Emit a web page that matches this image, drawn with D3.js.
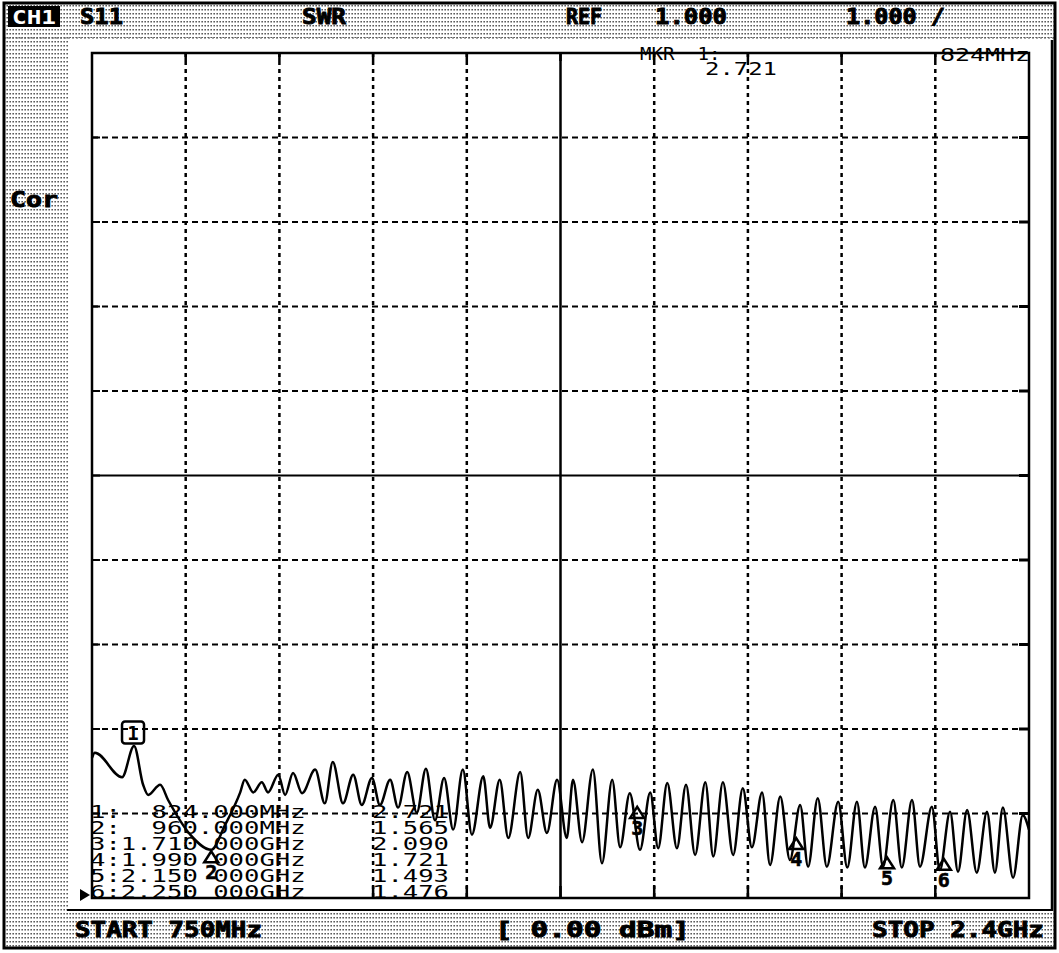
<!DOCTYPE html>
<html>
<head>
<meta charset="utf-8">
<script src="https://cdn.jsdelivr.net/npm/d3@7"></script>
<style>
  html, body { margin: 0; padding: 0; background: #fff; }
  svg { display: block; }
</style>
</head>
<body>
<svg id="chart" width="1059" height="953"></svg>
<script>
// ---------------- DATA ----------------
const startMHz = 750, stopMHz = 2400;
const refValue = 1.0, perDiv = 1.0, divisions = 10;

const freqMHz = [750,755,803,824,840,849,870,884,923,960,984,1011,1019,1034,1049,1060,1078,1090,1104,1120,
  1143,1160,1174,1192,1210,1225,1243,1257,1275,1289,1305,1322,1338,1354,1370,1386,1403,1419,1439,1451,
  1468,1483,1504,1518,1535,1551,1569,1586,1597,1613,1632,1648,1666,1680,1697,1715,1733,1747,1763,1780,
  1796,1812,1830,1844,1861,1879,1896,1912,1930,1944,1962,1979,1997,2011,2028,2044,2064,2080,2097,2111,
  2129,2143,2161,2176,2194,2208,2229,2243,2261,2275,2291,2308,2326,2340,2354,2372,2389,2400];
const swrValues = [2.66,2.72,2.43,2.80,2.34,2.22,2.34,2.16,1.75,1.57,1.86,2.25,2.40,2.25,2.37,2.25,2.46,2.22,2.48,2.24,
  2.52,2.12,2.61,2.12,2.46,2.10,2.42,2.10,2.40,2.07,2.49,2.01,2.53,1.92,2.42,1.81,2.52,1.75,2.44,1.83,
  2.40,1.71,2.49,1.71,2.28,1.77,2.40,1.71,2.40,1.66,2.52,1.41,2.40,1.60,2.24,1.57,2.25,1.59,2.36,1.59,
  2.34,1.51,2.37,1.49,2.37,1.51,2.30,1.60,2.25,1.39,2.20,1.45,2.10,1.37,2.18,1.37,2.14,1.36,2.14,1.36,
  2.08,1.37,2.16,1.36,2.16,1.37,2.08,1.33,2.02,1.31,2.04,1.30,2.02,1.30,2.07,1.24,1.98,1.81];

const markerNums = [1,2,3,4,5,6];
const markerFreqMHz = [824,960,1710,1990,2150,2250];
const markerSwr = [2.721,1.565,2.090,1.721,1.493,1.476];
const markerFreqText = ["824.000MHz","960.000MHz","1.710 000GHz","1.990 000GHz","2.150 000GHz","2.250 000GHz"];
const markerSwrText = ["2.721","1.565","2.090","1.721","1.493","1.476"];

const headerLabels = ["S11","SWR","REF","1.000","1.000 /"];
const footerLabels = ["START 750MHz","[ 0.00 dBm]","STOP 2.4GHz"];

// ---------------- LAYOUT ----------------
const W = 1059, H = 953;
const plot = {left: 92, right: 1029, top: 53, bottom: 898};
const svg = d3.select("#chart");

const x = d3.scaleLinear().domain([startMHz, stopMHz]).range([plot.left, plot.right]);
const y = d3.scaleLinear().domain([refValue, refValue + perDiv*divisions]).range([plot.bottom, plot.top]);

// halftone pattern
const defs = svg.append("defs");
const pat = defs.append("pattern").attr("id","dots").attr("patternUnits","userSpaceOnUse")
  .attr("width",3).attr("height",4);
pat.append("rect").attr("width",3).attr("height",4).attr("fill","#fff");
pat.append("rect").attr("x",0.5).attr("y",1).attr("width",1.3).attr("height",1.5).attr("fill","#333");

svg.append("rect").attr("width",W).attr("height",H).attr("fill","#fff");
// dotted frame regions
svg.append("rect").attr("x",4).attr("y",3).attr("width",1051).attr("height",35).attr("fill","url(#dots)");
svg.append("rect").attr("x",4).attr("y",38).attr("width",64).attr("height",873).attr("fill","url(#dots)");
svg.append("rect").attr("x",4).attr("y",911).attr("width",1051).attr("height",37).attr("fill","url(#dots)");
// white screen area boundary
svg.append("line").attr("x1",67).attr("x2",1052).attr("y1",910).attr("y2",910).attr("stroke","#000").attr("stroke-width",2);
svg.append("line").attr("x1",1052).attr("x2",1052).attr("y1",40).attr("y2",911).attr("stroke","#000").attr("stroke-width",2.5);
svg.append("line").attr("x1",4).attr("x2",1055).attr("y1",38).attr("y2",38).attr("stroke","#555").attr("stroke-width",1).attr("stroke-dasharray","2,2");
// outer border
svg.append("rect").attr("x",4).attr("y",3).attr("width",1051).attr("height",945)
  .attr("fill","none").attr("stroke","#000").attr("stroke-width",3);

// header
const hdrFont = "'DejaVu Sans Mono', monospace";
svg.append("rect").attr("x",8).attr("y",6).attr("width",52).attr("height",21).attr("fill","#000");
svg.append("text").attr("x",12).attr("y",24).text("CH1").attr("fill","#fff")
  .attr("font-family",hdrFont).attr("font-weight","bold").attr("font-size",20)
  .attr("textLength",44).attr("lengthAdjust","spacingAndGlyphs");
const hdrX = [80,302,566,655,846], hdrLen = [43,44,36,72,99];
headerLabels.forEach((t,i)=>{
  svg.append("text").attr("x",hdrX[i]).attr("y",24).text(t).style("white-space","pre")
    .attr("font-family",hdrFont).attr("font-weight","bold").attr("font-size",21)
    .attr("stroke","#000").attr("stroke-width",0.9)
    .attr("textLength",hdrLen[i]).attr("lengthAdjust","spacingAndGlyphs");
});
svg.append("text").attr("x",10).attr("y",207).text("Cor")
  .attr("font-family",hdrFont).attr("font-weight","bold").attr("font-size",21)
  .attr("stroke","#000").attr("stroke-width",0.9)
  .attr("textLength",48).attr("lengthAdjust","spacingAndGlyphs");

// footer
const ftX = [75,495,872], ftLen = [187,195,172];
footerLabels.forEach((t,i)=>{
  svg.append("text").attr("x",ftX[i]).attr("y",937).text(t).style("white-space","pre")
    .attr("font-family",hdrFont).attr("font-weight","bold").attr("font-size",22)
    .attr("stroke","#000").attr("stroke-width",0.9)
    .attr("textLength",ftLen[i]).attr("lengthAdjust","spacingAndGlyphs");
});

// grid
const g = svg.append("g");
const yTicks = d3.range(0, divisions+1).map(i => refValue + i*perDiv);
const xTicks = d3.range(0, divisions+1).map(i => startMHz + i*(stopMHz-startMHz)/divisions);
yTicks.forEach((v,i)=>{
  if (i===0 || i===divisions) return;
  const yy = y(v);
  const solid = (i === divisions/2);
  g.append("line").attr("x1",plot.left).attr("x2",plot.right).attr("y1",yy).attr("y2",yy)
    .attr("stroke","#000").attr("stroke-width",2).attr("stroke-dasharray", solid ? null : "6,4");
  g.append("line").attr("x1",plot.left).attr("x2",plot.left+8).attr("y1",yy).attr("y2",yy).attr("stroke","#000").attr("stroke-width",2);
  g.append("line").attr("x1",plot.right-10).attr("x2",plot.right).attr("y1",yy).attr("y2",yy).attr("stroke","#000").attr("stroke-width",3);
});
xTicks.forEach((v,i)=>{
  if (i===0 || i===divisions) return;
  const xx = x(v);
  const solid = (i === divisions/2);
  g.append("line").attr("x1",xx).attr("x2",xx).attr("y1",plot.top).attr("y2",plot.bottom)
    .attr("stroke","#000").attr("stroke-width",2.5).attr("stroke-dasharray", solid ? null : "4,4");
  g.append("line").attr("x1",xx).attr("x2",xx).attr("y1",plot.bottom-12).attr("y2",plot.bottom).attr("stroke","#000").attr("stroke-width",2.5);
  g.append("line").attr("x1",xx).attr("x2",xx).attr("y1",plot.top).attr("y2",plot.top+8).attr("stroke","#000").attr("stroke-width",2.5);
});
g.append("rect").attr("x",plot.left).attr("y",plot.top).attr("width",plot.right-plot.left).attr("height",plot.bottom-plot.top)
  .attr("fill","none").attr("stroke","#000").attr("stroke-width",2.5);

// trace
const pts = freqMHz.map((f,i)=>[f, swrValues[i]]);
const line = d3.line().x(d=>x(d[0])).y(d=>y(d[1])).curve(d3.curveMonotoneX);
svg.append("path").datum(pts).attr("d",line).attr("fill","none").attr("stroke","#000")
  .attr("stroke-width",2.5).attr("stroke-linejoin","round");

// reference pointer
const ry = y(refValue) - 3;
svg.append("path").attr("d",`M80,${ry-6}L90,${ry}L80,${ry+6}Z`).attr("fill","#000");

// marker table
const monoFont = "'DejaVu Sans Mono', monospace";
const charW = 15.4;
markerNums.forEach((n,i)=>{
  const by = 818 + i*16;
  const s = `${n}:` + markerFreqText[i].padStart(12," ");
  svg.append("text").attr("x",90).attr("y",by).text(s)
    .style("white-space","pre")
    .attr("font-family",monoFont).attr("font-size",17.5)
    .attr("textLength",s.length*charW).attr("lengthAdjust","spacingAndGlyphs");
  svg.append("text").attr("x",372).attr("y",by).text(markerSwrText[i])
    .attr("font-family",monoFont).attr("font-size",17.5)
    .attr("textLength",markerSwrText[i].length*charW).attr("lengthAdjust","spacingAndGlyphs");
});

// markers
markerNums.forEach((n,i)=>{
  const mx = x(markerFreqMHz[i]), my = y(markerSwr[i]);
  if (n === 1) {
    svg.append("rect").attr("x",mx-12).attr("y",my-31).attr("width",22).attr("height",22).attr("rx",3)
      .attr("fill","none").attr("stroke","#000").attr("stroke-width",2.5);
    svg.append("text").attr("x",mx-1).attr("y",my-13).attr("text-anchor","middle").text("1")
      .attr("font-family",hdrFont).attr("font-weight","bold").attr("font-size",19);
  } else {
    svg.append("path").attr("d",`M${mx},${my+1}L${mx-7},${my+12}L${mx+7},${my+12}Z`)
      .attr("fill","none").attr("stroke","#000").attr("stroke-width",2.5).attr("stroke-linejoin","miter");
    svg.append("text").attr("x",mx).attr("y",my+29).attr("text-anchor","middle").text(String(n))
      .attr("font-family",hdrFont).attr("font-weight","bold").attr("font-size",20)
      .attr("stroke","#000").attr("stroke-width",0.6);
  }
});

// active marker readout
svg.append("text").attr("x",640).attr("y",60).text("MKR  1:").style("white-space","pre")
  .attr("font-family",monoFont).attr("font-size",17.5).attr("textLength",7*11.5).attr("lengthAdjust","spacingAndGlyphs");
svg.append("text").attr("x",705).attr("y",75).text("2.721")
  .attr("font-family",monoFont).attr("font-size",17.5).attr("textLength",72).attr("lengthAdjust","spacingAndGlyphs");
svg.append("text").attr("x",940).attr("y",61).text("824MHz")
  .attr("font-family",monoFont).attr("font-size",17.5).attr("textLength",90).attr("lengthAdjust","spacingAndGlyphs");
</script>
</body>
</html>
